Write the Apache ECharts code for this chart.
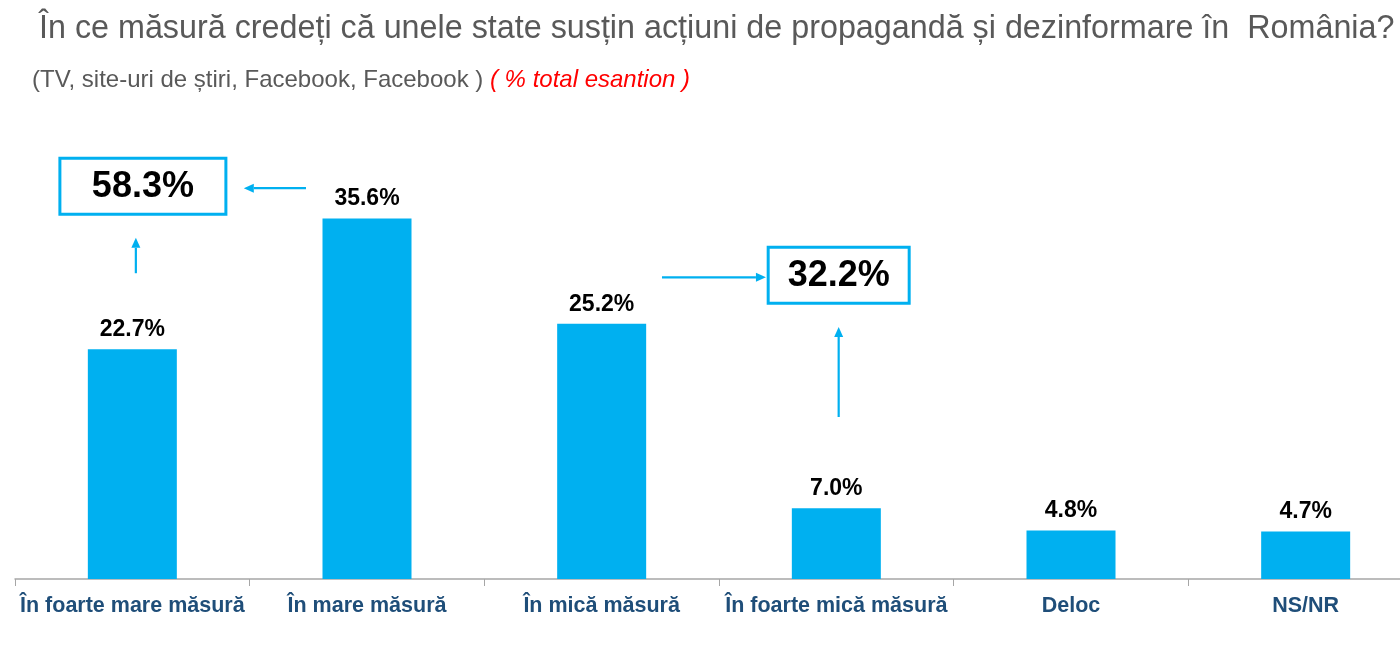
<!DOCTYPE html>
<html>
<head>
<meta charset="utf-8">
<script src="https://cdn.jsdelivr.net/npm/echarts@6/dist/echarts.min.js"></script>
<style>
  html, body { margin: 0; padding: 0; background: #fff; }
  #chart { width: 1400px; height: 646px; }
</style>
</head>
<body>
<div id="chart"></div>
<script>
// categorii si valori (% total esantion)
const categories = ['În foarte mare măsură', 'În mare măsură', 'În mică măsură', 'În foarte mică măsură', 'Deloc', 'NS/NR'];
const values = [22.7, 35.6, 25.2, 7.0, 4.8, 4.7];
// totaluri pe grupe: (mare + foarte mare), (mica + foarte mica)
const groupTotals = ['58.3%', '32.2%'];

const BLUE = '#00B0F0';
const FONT = '"Liberation Sans", Arial, sans-serif';

// casete si sageti, in unitati de date (x = index categorie, y = %)
const boxes = [
    { x: 0.045, y: 38.8, w: 166, h: 56, text: groupTotals[0] },
    { x: 3.01, y: 30.0, w: 141, h: 56, text: groupTotals[1] },
];
const arrows = [
    [0.74, 38.6, 0.475, 38.6],
    [0.015, 30.2, 0.015, 33.7],
    [2.257, 29.8, 2.70, 29.8],
    [3.01, 16.0, 3.01, 24.9],
];

const chart = echarts.init(document.getElementById('chart'));

const renderAnnot = (params, api) => {
    const i = api.value(0);
    const children = [];
    if (i < boxes.length) {
        const b = boxes[i];
        const c = api.coord([b.x, b.y]);
        children.push({
            type: 'rect',
            shape: { x: c[0] - b.w / 2, y: c[1] - b.h / 2, width: b.w, height: b.h },
            style: { fill: '#fff', stroke: BLUE, lineWidth: 3 },
        });
        children.push({
            type: 'text',
            style: {
                text: b.text, x: c[0], y: c[1] + 1, align: 'center', verticalAlign: 'middle',
                fill: '#000', font: 'bold 36px ' + FONT,
            },
        });
    } else {
        const a = arrows[i - boxes.length];
        const p1 = api.coord([a[0], a[1]]);
        const p2 = api.coord([a[2], a[3]]);
        const ang = Math.atan2(p2[1] - p1[1], p2[0] - p1[0]);
        const L = 10, W = 4.5;
        const bx = p2[0] - L * Math.cos(ang), by = p2[1] - L * Math.sin(ang);
        children.push({
            type: 'line',
            shape: { x1: p1[0], y1: p1[1], x2: bx, y2: by },
            style: { stroke: BLUE, lineWidth: 2.2 },
        });
        children.push({
            type: 'polygon',
            shape: {
                points: [
                    p2,
                    [bx + W * Math.sin(ang), by - W * Math.cos(ang)],
                    [bx - W * Math.sin(ang), by + W * Math.cos(ang)],
                ],
            },
            style: { fill: BLUE },
        });
    }
    return { type: 'group', children };
};

const annotData = [];
for (let k = 0; k < boxes.length + arrows.length; k++) annotData.push([k]);

const option = {
    backgroundColor: '#fff',
    animation: false,
    title: [
        {
            text: 'În ce măsură credeți că unele state susțin acțiuni de propagandă și dezinformare în  România?',
            left: 34,
            top: 8,
            textStyle: { color: '#595959', fontSize: 32.3, fontWeight: 'normal', fontFamily: FONT },
        },
        {
            text: '{a|(TV, site-uri de știri, Facebook, Facebook ) }{b|( % total esantion )}',
            left: 27,
            top: 63,
            textStyle: {
                fontWeight: 'normal',
                rich: {
                    a: { color: '#595959', fontSize: 24, fontWeight: 'normal', fontFamily: FONT },
                    b: { color: '#FF0000', fontSize: 24, fontWeight: 'normal', fontStyle: 'italic', fontFamily: FONT },
                },
            },
        },
    ],
    grid: { left: 15, top: 174, width: 1408, height: 405, outerBoundsMode: 'none', containLabel: false },
    xAxis: [
        {
            type: 'category',
            data: categories,
            axisLine: { lineStyle: { color: '#a6a6a6', width: 1.5 } },
            axisTick: { show: true, length: 7, lineStyle: { color: '#a6a6a6' } },
            axisLabel: {
                color: '#1F4E79',
                fontSize: 21.5,
                fontWeight: 'bold',
                fontFamily: FONT,
                margin: 16,
                interval: 0,
            },
        },
        {
            type: 'value',
            min: -0.5,
            max: 5.5,
            show: false,
        },
    ],
    yAxis: {
        type: 'value',
        min: 0,
        max: 40,
        show: false,
        splitLine: { show: false },
    },
    series: [
        {
            type: 'bar',
            data: values,
            barWidth: 89,
            itemStyle: { color: BLUE },
            label: {
                show: true,
                position: 'top',
                distance: 8,
                formatter: (p) => p.value.toFixed(1) + '%',
                color: '#000',
                fontSize: 23,
                fontWeight: 'bold',
                fontFamily: FONT,
            },
        },
        {
            type: 'custom',
            xAxisIndex: 1,
            renderItem: renderAnnot,
            data: annotData,
            z: 5,
        },
    ],
};

chart.setOption(option);
</script>
</body>
</html>
